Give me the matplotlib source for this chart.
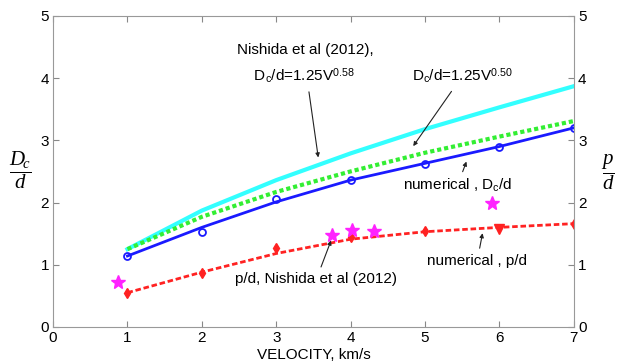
import numpy as np
import matplotlib.pyplot as plt

plt.rcParams['font.family'] = ['Liberation Sans', 'DejaVu Sans']
plt.rcParams['mathtext.fontset'] = 'custom'
plt.rcParams['mathtext.rm'] = 'Liberation Sans'
plt.rcParams['mathtext.it'] = 'Liberation Serif:italic'

# velocities (km/s)
v = [1, 2, 3, 4, 5, 6, 7]

# Nishida et al (2012): Dc/d = 1.25 V^0.58
nishida_dc = [1.25, 1.87, 2.36, 2.79, 3.18, 3.53, 3.87]
# Dc/d = 1.25 V^0.50
fit_dc = [1.25, 1.77, 2.17, 2.50, 2.80, 3.06, 3.31]
# numerical Dc/d (fitted line and computed points)
num_dc_line = [1.14, 1.60, 2.01, 2.36, 2.63, 2.90, 3.20]
num_dc_pts = [1.14, 1.53, 2.05, 2.36, 2.62, 2.89, 3.20]
# numerical p/d (line and points)
num_pd_line = [0.55, 0.88, 1.18, 1.41, 1.53, 1.60, 1.66]
num_pd_pts = [0.55, 0.87, 1.27, 1.44, 1.54, 1.57, 1.65]
# p/d, Nishida et al (2012) experiments
exp_v = [0.87, 3.75, 4.02, 4.31, 5.90]
exp_pd = [0.72, 1.48, 1.56, 1.54, 1.99]

fig = plt.figure(figsize=(6.17, 3.62), dpi=100)
ax = fig.add_axes([0.086, 0.097, 0.844, 0.859])

ax.plot(v, nishida_dc, color='#33ffff', lw=3)
ax.plot(v, fit_dc, color='#33ee33', lw=3, ls=(0, (1, 0.7)))
ax.plot(v, num_dc_line, color='#1a1aff', lw=2)
ax.plot(v, num_dc_pts, 'o', color='#1a1aff', ms=5, mfc='none', mew=1.3)
ax.plot(v, num_pd_line, color='#ff2222', lw=2, ls=(0, (2, 1)))
ax.plot(v[:5] + v[6:], num_pd_pts[:5] + num_pd_pts[6:], 'd', color='#ff2222', ms=5)
ax.plot(v[5:6], num_pd_pts[5:6], 'v', color='#ff2222', ms=6.5)
ax.plot(exp_v, exp_pd, '*', color='#ff22ff', ms=10, mec='#ff22ff')

ax.set_xlim(0, 7)
ax.set_ylim(0, 5)
ax.set_xticks(range(8))
ax.set_yticks(range(6))
ax.tick_params(direction='in', top=True, right=True, labelright=True,
               labelsize=11, length=4, color='#888888', pad=3)
for s in ax.spines.values():
    s.set_color('#999999')
ax.set_xlabel('VELOCITY, km/s', fontsize=11, labelpad=2)

arw = dict(arrowstyle='-|>', color='#222222', lw=0.8, mutation_scale=6)
ax.annotate('Nishida et al (2012),\n' + '    D$_\\mathrm{c}$/d=1.25V$^{0.58}$',
            xy=(3.57, 2.68), xytext=(2.47, 3.95), fontsize=11,
            arrowprops=arw, linespacing=1.6)
ax.annotate('D$_\\mathrm{c}$/d=1.25V$^{0.50}$', xy=(4.82, 2.87),
            xytext=(4.82, 3.95), fontsize=11, arrowprops=arw)
ax.annotate('numerical , D$_\\mathrm{c}$/d', xy=(5.57, 2.7),
            xytext=(4.7, 2.2), fontsize=11, arrowprops=arw)
ax.annotate('p/d, Nishida et al (2012)', xy=(3.75, 1.43),
            xytext=(2.45, 0.7), fontsize=11, arrowprops=arw)
ax.annotate('numerical , p/d', xy=(5.78, 1.55),
            xytext=(5.03, 1.0), fontsize=11, arrowprops=arw)

fig.text(0.033, 0.53, r'$\dfrac{D_{\!c}}{d}$', fontsize=15, ha='center', va='center')
fig.text(0.985, 0.525, r'$\dfrac{p}{d}$', fontsize=15, ha='center', va='center')

fig.savefig('out.png', dpi=100)
